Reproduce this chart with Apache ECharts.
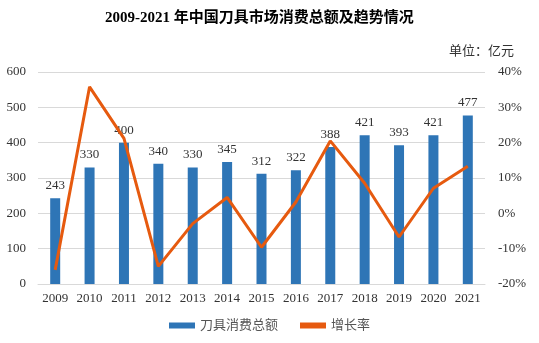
<!DOCTYPE html>
<html><head><meta charset="utf-8">
<script src="https://cdn.jsdelivr.net/npm/echarts@6/dist/echarts.min.js"></script>
<style>html,body{margin:0;padding:0;background:#fff}#c{width:539px;height:343px}</style>
</head><body><div id="c"></div>
<script>
var years = ['2009','2010','2011','2012','2013','2014','2015','2016','2017','2018','2019','2020','2021'];
var totals = [243,330,400,340,330,345,312,322,388,421,393,421,477];
var growth = [-16,35.8,21.2,-15,-2.9,4.5,-9.6,3.2,20.5,8.5,-6.7,7.1,13.3];
var leftTicks = [0,100,200,300,400,500,600];
var rightTicks = [-20,-10,0,10,20,30,40];

var serif = '"Liberation Serif","Times New Roman","Noto Sans CJK SC",serif';
var chart = echarts.init(document.getElementById('c'));
chart.setOption({
  animation:false,
  title:[{text:'2009-2021 年中国刀具市场消费总额及趋势情况',left:100,top:6,
    textStyle:{fontFamily:serif,fontSize:15,fontWeight:'bold',color:'#000'}},
    {text:'单位：亿元',right:20,top:40,textStyle:{fontFamily:serif,fontSize:13,fontWeight:'normal',color:'#333'}}],
  grid:{left:38,right:54,top:72,bottom:59},
  legend:{bottom:6,left:'center',itemWidth:26,itemHeight:6,itemGap:22,
    textStyle:{fontFamily:serif,fontSize:13,color:'#555'},
    data:[{name:'刀具消费总额',icon:'rect'},{name:'增长率',icon:'rect'}]},
  xAxis:{type:'category',data:years,axisTick:{show:false},
    axisLine:{lineStyle:{color:'#d9d9d9'}},
    axisLabel:{fontFamily:serif,fontSize:13,color:'#333',margin:8}},
  yAxis:[{type:'value',min:leftTicks[0],max:leftTicks[leftTicks.length-1],interval:100,
    axisLabel:{fontFamily:serif,fontSize:13,color:'#333',margin:12},
    splitLine:{lineStyle:{color:'#d9d9d9'}}},
    {type:'value',min:rightTicks[0],max:rightTicks[rightTicks.length-1],interval:10,
    axisLabel:{fontFamily:serif,fontSize:13,color:'#333',margin:13,formatter:'{value}%'},
    splitLine:{show:false}}],
  series:[{name:'刀具消费总额',type:'bar',data:totals,barWidth:10,
    itemStyle:{color:'#2E75B6'},
    label:{show:true,position:'top',distance:6,fontFamily:serif,fontSize:13,color:'#333'}},
    {name:'增长率',type:'line',yAxisIndex:1,data:growth,symbol:'none',
    lineStyle:{color:'#E65A0F',width:3},itemStyle:{color:'#E65A0F'}}]
});
</script></body></html>
